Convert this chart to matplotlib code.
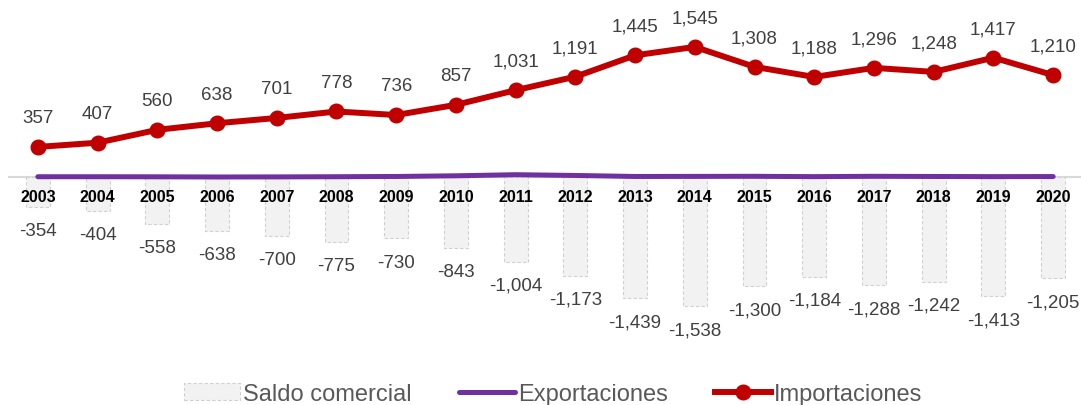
import matplotlib
matplotlib.use("Agg")
import matplotlib.pyplot as plt
import numpy as np

years = ["2003", "2004", "2005", "2006", "2007", "2008", "2009", "2010", "2011",
         "2012", "2013", "2014", "2015", "2016", "2017", "2018", "2019", "2020"]
importaciones = [357, 407, 560, 638, 701, 778, 736, 857, 1031, 1191, 1445, 1545,
                 1308, 1188, 1296, 1248, 1417, 1210]
saldo = [-354, -404, -558, -638, -700, -775, -730, -843, -1004, -1173, -1439,
         -1538, -1300, -1184, -1288, -1242, -1413, -1205]
exportaciones = [3, 3, 2, 0, 1, 3, 6, 14, 27, 18, 6, 7, 8, 4, 8, 6, 4, 5]

plt.rcParams['font.family'] = ['Liberation Sans', 'DejaVu Sans']

W, H = 1081, 406
fig = plt.figure(figsize=(W / 100, H / 100), dpi=100)
ax = fig.add_axes([8 / W, 55 / H, 1075 / W, 350 / H])
x = np.arange(len(years))

ax.set_xlim(-0.5, 17.5)
ax.set_ylim(-2055, 2102)
for s in ax.spines.values():
    s.set_visible(False)
ax.set_xticks([])
ax.set_yticks([])

ax.axhline(0, color="#D9D9D9", lw=1.5, zorder=1)

bars = ax.bar(x, saldo, width=0.4, color="#F2F2F2", edgecolor="#D0D0D0",
              linestyle=(0, (3, 2)), linewidth=0.8, zorder=2, label="Saldo comercial")

l_exp, = ax.plot(x, exportaciones, color="#7030A0", lw=3.6, solid_capstyle="round",
                 zorder=3, label="Exportaciones")
l_imp, = ax.plot(x, importaciones, color="#C00000", lw=4.3, marker="o", markersize=10.5,
                 zorder=4, label="Importaciones")

for xi, v in zip(x, importaciones):
    ax.annotate(f"{v:,}", (xi, v), xytext=(0, 21), textcoords="offset points",
                ha="center", va="center", fontsize=13.5, color="#404040")
for xi, v in zip(x, saldo):
    ax.annotate(f"{v:,}", (xi, v), xytext=(0, -17), textcoords="offset points",
                ha="center", va="center", fontsize=13.5, color="#404040")
for xi, y in zip(x, years):
    ax.annotate(y, (xi, 0), xytext=(0, -13.7), textcoords="offset points",
                ha="center", va="center", fontsize=11.5, fontweight="bold",
                color="black", zorder=5)

leg = fig.legend(handles=[bars, l_exp, l_imp],
                 labels=["Saldo comercial", "Exportaciones", "Importaciones"],
                 loc="center", bbox_to_anchor=(553 / W, 1 - 395 / H), ncol=3,
                 frameon=False, fontsize=17, handlelength=2.4,
                 handletextpad=0.1, columnspacing=2.0, borderpad=0)
for t in leg.get_texts():
    t.set_color("#595959")

fig.savefig("out.png", dpi=100)
